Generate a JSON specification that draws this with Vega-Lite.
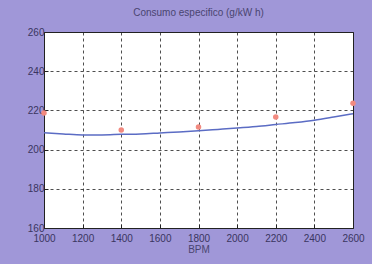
{
  "$schema": "https://vega.github.io/schema/vega-lite/v6.json",
  "autosize": "none",
  "width": 309,
  "height": 196,
  "padding": {"left": 44, "top": 32, "right": 19, "bottom": 36},
  "background": "#a097d8",
  "title": {"text": "Consumo especifico (g/kW h)", "font": "Liberation Sans", "fontSize": 10, "fontWeight": "normal", "color": "#4a4570", "offset": 9},
  "config": {
    "view": {"stroke": "#222", "strokeWidth": 1, "fill": "white"},
    "axis": {"labelFont": "Liberation Sans", "labelFontSize": 10, "labelColor": "#3a3560", "titleFont": "Liberation Sans", "titleFontSize": 10, "titleFontWeight": "normal", "titleColor": "#4a4570", "domain": false, "tickColor": "#222", "tickSize": -4, "grid": true, "gridColor": "#222", "gridDash": [3, 3], "gridOpacity": 0.8, "labelOverlap": false, "labelFlush": false, "format": "d"}
  },
  "datasets": {
    "measured": [
      {"rpm": 1000, "value": 218.7},
      {"rpm": 1400, "value": 210},
      {"rpm": 1800, "value": 211.5},
      {"rpm": 2200, "value": 216.6},
      {"rpm": 2600, "value": 223.7}
    ],
    "fit": [
      {"rpm": 1000, "value": 208.6},
      {"rpm": 1100, "value": 208},
      {"rpm": 1200, "value": 207.5},
      {"rpm": 1300, "value": 207.5},
      {"rpm": 1400, "value": 207.8},
      {"rpm": 1500, "value": 208},
      {"rpm": 1600, "value": 208.5},
      {"rpm": 1700, "value": 209},
      {"rpm": 1800, "value": 209.6},
      {"rpm": 1900, "value": 210.3},
      {"rpm": 2000, "value": 211},
      {"rpm": 2100, "value": 211.8},
      {"rpm": 2200, "value": 212.8},
      {"rpm": 2300, "value": 213.8},
      {"rpm": 2400, "value": 215},
      {"rpm": 2500, "value": 216.6},
      {"rpm": 2600, "value": 218.3}
    ]
  },
  "encoding": {
    "x": {"field": "rpm", "type": "quantitative", "scale": {"domain": [1000, 2600], "nice": false}, "axis": {"values": [1000, 1200, 1400, 1600, 1800, 2000, 2200, 2400, 2600], "tickCount": 9, "title": "BPM", "titlePadding": 1, "labelPadding": 9}},
    "y": {"field": "value", "type": "quantitative", "scale": {"domain": [160, 260], "nice": false, "zero": false}, "axis": {"values": [160, 180, 200, 220, 240, 260], "tickCount": 6, "title": null, "labelPadding": 4}}
  },
  "layer": [
    {
      "data": {"name": "fit"},
      "mark": {"type": "line", "color": "#5b6cc4", "strokeWidth": 1.5, "interpolate": "monotone"}
    },
    {
      "data": {"name": "measured"},
      "mark": {"type": "circle", "color": "#f28a80", "size": 30, "opacity": 1}
    }
  ]
}
